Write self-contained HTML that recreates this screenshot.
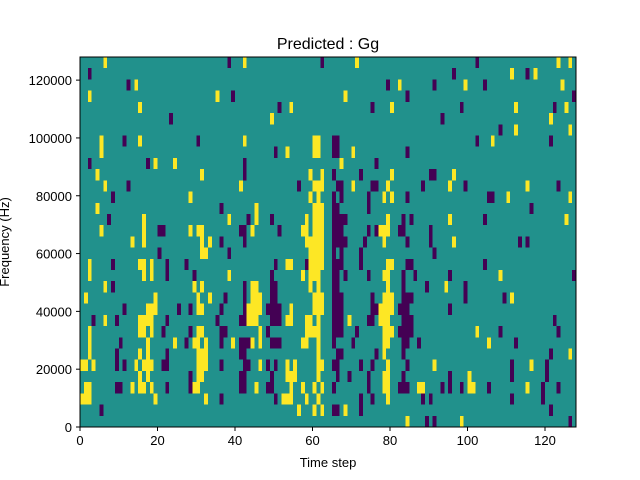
<!DOCTYPE html>
<html><head><meta charset="utf-8"><style>
body{margin:0;background:#fff;}
svg{display:block;font-family:"Liberation Sans","DejaVu Sans",sans-serif;}
</style></head><body>
<svg id="chart" width="640" height="480" viewBox="0 0 640 480" xmlns="http://www.w3.org/2000/svg">
<rect width="640" height="480" fill="#fff"/>
<g id="cells"></g>
<rect x="80" y="57" width="496" height="370" fill="none" stroke="#000" stroke-width="1"/>
<g id="xticks"></g>
<g id="yticks"></g>
<text x="328" y="49" font-size="16" text-anchor="middle">Predicted : Gg</text>
<text x="328" y="467" font-size="13" text-anchor="middle">Time step</text>
<text transform="translate(9,242) rotate(-90)" font-size="13" text-anchor="middle">Frequency (Hz)</text>
</svg>
<script>
// Rows from top (highest frequency bin) to bottom; tokens "col" or "c0-c1" followed by y (yellow) / p (purple)
const rowCells = [
"6y 38p 42y 62p 71y 102p 123y 126y",
"2p 96p 111y 115p 117y",
"12p 14y 79p 82y 91p 99y 104p 124y",
"2y 35y 39p 68y 84p 127p",
"15y 51p 54y 75p 80y 98p 112y 122p 125y",
"23p 49y 93p 121y",
"108p 112y 126y",
"5y 11p 15y 30p 42y 60-61y 65-66p 102p 106y 121p",
"5y 50p 53y 60-61y 65-66p 70y 84p",
"2p 17p 19y 24y 42p 67y 76p",
"4y 31y 42p 59y 62y 65p 72p 80y 90-91p 96y",
"6y 12p 41y 56p 60-62y 66-67p 70y 75-76p 79y 88p 95y 99p 115y 123p",
"8p 28y 59y 61y 65p 67p 74p 78y 80y 84p 105-106p 110y 126y",
"4y 36p 45y 60-62y 65-66p 74p 116p",
"7p 16y 38y 43p 45y 49p 58y 60-62y 65-68p 79y 83p 85p 95y 104p 125y",
"5y 16y 20-21p 28y 30-31y 41-42p 44y 51p 57-58y 60-62y 65-67p 74p 76p 77-79y 82-83p 90p",
"13y 16y 31y 33y 36p 42p 58-62y 65-68p 73p 78y 84p 90p 96y 113p 115p",
"20p 31-32y 38p 59-62y 65p 67p 72p 91p",
"2y 8p 15-16y 18y 22p 27p 50p 53-54y 58p 59-62y 65-67p 72p 79-80y 84-85p 104p",
"2y 16y 18y 22p 29p 38y 49p 57y 59-61y 65-66p 68p 74p 78-79y 83p 86p 95p 108y 127p",
"6y 8p 29y 31y 42p 44-45y 49-50p 59y 61y 65-66p 79y 83p 89p 94y 99p",
"1y 19y 30y 33y 37p 42p 44-46y 49-50p 60-62y 65-67p 75p 78-80y 83-85p 99p 109p 111y",
"11p 17-19y 25p 28p 30-31y 36p 42p 43-46y 48-51p 54y 60-62y 65-67p 75-76p 77-80y 82-84p 95p",
"3p 6y 9p 15-18y 22p 35p 41-42p 43-45y 49-51p 53-54y 58-59y 61y 65-67p 69y 74-75p 77-79y 83-85p 122p",
"2y 15-16y 18y 21p 28p 30-31y 36-37p 46y 48p 58-61y 65-67p 71p 78-80y 82-85p 102y 108p 123p",
"2y 10p 17y 24y 27p 29-30y 32y 36p 39y 41-43p 44y 46y 49-51p 57-58y 61y 65p 70p 78-79y 83-84p 87p 105y 112p",
"2y 9p 15y 17y 22p 30-32y 41-42p 61y 66-67p 76p 78y 83p 121p 126y",
"0-1y 3y 9p 11p 14y 16-18y 21-22p 30-32y 36p 42-43p 46y 48p 50p 53y 55y 61-62y 65-66p 72p 75p 79y 84p 91y 111p 116y 120p",
"15y 17y 28p 30-31y 41-42p 49p 53-55y 61y 66p 69p 74p 78-79y 83p 95p 100y 111p 120p",
"1-2y 9-10p 13y 15-16y 18y 22p 28p 29-30y 41-42p 45y 48-49p 54y 57y 60y 62y 65p 74p 78-79y 82-84p 87-88y 93p 95p 98p 100-101y 105p 115y 119p 123p",
"0-2y 19y 32y 36p 50p 52-54y 58y 61y 72p 75p 79y 88p 90p 111p 119p",
"5p 56y 60y 62y 65-66p 68y 72p 121p",
"84y 89p 91p 98y 126p"
];
const nCols = 128;
const yMax = 128000;
const xTicks = [0, 20, 40, 60, 80, 100, 120];
const yTicks = [0, 20000, 40000, 60000, 80000, 100000, 120000];

const X0 = 80, X1 = 576, Y0 = 427, Y1 = 57;
const nRows = rowCells.length;
const binH = yMax / nRows;
const xs = t => X0 + t / nCols * (X1 - X0);
const ys = v => Y0 - v / yMax * (Y0 - Y1);
const NS = "http://www.w3.org/2000/svg";
const g = document.getElementById('cells');
const bg = document.createElementNS(NS, 'rect');
bg.setAttribute('x', X0); bg.setAttribute('y', Y1);
bg.setAttribute('width', X1 - X0); bg.setAttribute('height', Y0 - Y1);
bg.setAttribute('fill', '#21918c');


g.appendChild(bg);
rowCells.forEach((s, r) => {
  const bin = nRows - 1 - r;
  s.trim().split(/\s+/).forEach(tok => {
    if (!tok) return;
    const kind = tok.slice(-1);
    const parts = tok.slice(0, -1).split('-').map(Number);
    const c0 = parts[0], c1 = parts.length > 1 ? parts[1] : parts[0];
    const rc = document.createElementNS(NS, 'rect');
    const xa = xs(c0), xb = xs(c1 + 1);
    const ya = ys((bin + 1) * binH), yb = ys(bin * binH);
    rc.setAttribute('x', xa.toFixed(2));
    rc.setAttribute('y', ya.toFixed(2));
    rc.setAttribute('width', (xb - xa).toFixed(2));
    rc.setAttribute('height', (yb - ya).toFixed(2));
    rc.setAttribute('fill', kind === 'y' ? '#fde725' : '#440154');
    rc.setAttribute('shape-rendering', 'crispEdges');
    
    
    g.appendChild(rc);
  });
});
const xg = document.getElementById('xticks');
xTicks.forEach(t => {
  const x = xs(t);
  const l = document.createElementNS(NS, 'line');
  l.setAttribute('x1', x); l.setAttribute('x2', x);
  l.setAttribute('y1', Y0); l.setAttribute('y2', Y0 + 4);
  l.setAttribute('stroke', '#000');
  
  
  xg.appendChild(l);
  const tx = document.createElementNS(NS, 'text');
  tx.setAttribute('x', x); tx.setAttribute('y', Y0 + 18);
  tx.setAttribute('font-size', '13'); tx.setAttribute('text-anchor', 'middle');
  tx.textContent = t;
  
  
  xg.appendChild(tx);
});
const yg = document.getElementById('yticks');
yTicks.forEach(v => {
  const y = ys(v);
  const l = document.createElementNS(NS, 'line');
  l.setAttribute('x1', X0 - 4); l.setAttribute('x2', X0);
  l.setAttribute('y1', y); l.setAttribute('y2', y);
  l.setAttribute('stroke', '#000');
  
  
  yg.appendChild(l);
  const tx = document.createElementNS(NS, 'text');
  tx.setAttribute('x', X0 - 8); tx.setAttribute('y', y + 5);
  tx.setAttribute('font-size', '13'); tx.setAttribute('text-anchor', 'end');
  tx.textContent = v;
  
  
  yg.appendChild(tx);
});
</script>
</body></html>
